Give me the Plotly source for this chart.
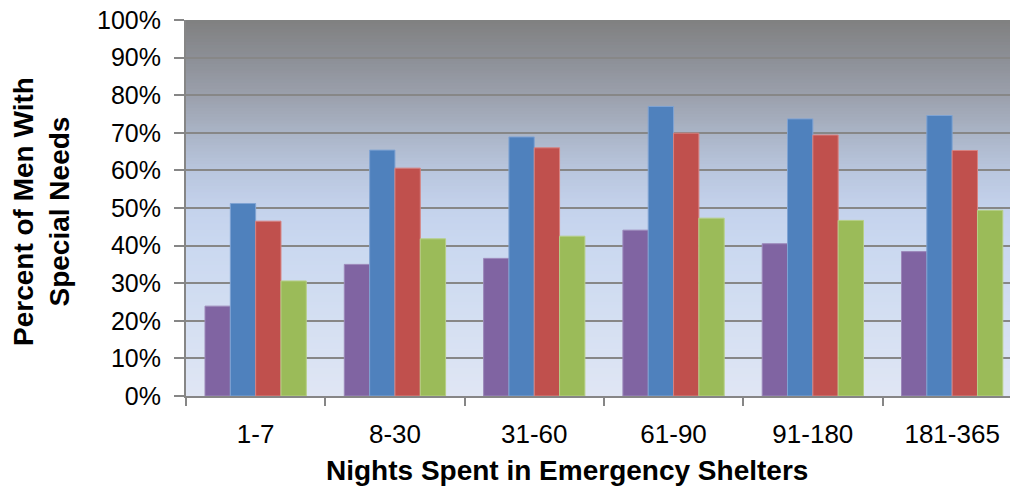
import plotly.graph_objects as go

categories = ["1-7", "8-30", "31-60", "61-90", "91-180", "181-365"]
series_purple = [23.9, 35.0, 36.6, 44.1, 40.5, 38.4]
series_blue = [51.2, 65.4, 68.9, 77.0, 73.7, 74.6]
series_red = [46.5, 60.6, 66.0, 69.9, 69.4, 65.3]
series_green = [30.6, 41.8, 42.5, 47.3, 46.7, 49.4]
y_ticks = [0, 10, 20, 30, 40, 50, 60, 70, 80, 90, 100]
y_tick_labels = ["0%", "10%", "20%", "30%", "40%", "50%", "60%", "70%", "80%", "90%", "100%"]

# the page body has an 8px margin, so the figure is sized/offset to compensate
OFF = 8
W, H = 1018 - OFF, 489 - OFF
L, R, T, B = 186 - OFF, 0, 20 - OFF, 489 - 396
PW = W - L - R
PH = H - T - B

fig = go.Figure()
colors = [("#8064A2", "#9C88BA"), ("#4F81BD", "#7FA3D3"), ("#C0504D", "#D88280"), ("#9BBB59", "#B6CF86")]
for vals, (c, lc) in zip([series_purple, series_blue, series_red, series_green], colors):
    fig.add_trace(go.Bar(x=categories, y=vals, marker=dict(color=c, line=dict(color=lc, width=1)),
                         showlegend=False, hoverinfo="skip"))

# gradient background via thin stacked rectangles
stops = [(0.0, (224, 230, 244)), (0.2, (212, 223, 242)), (0.4, (202, 216, 240)), (0.5, (196, 210, 236)),
         (0.6, (185, 198, 222)), (0.7, (170, 180, 198)), (0.8, (155, 160, 172)), (0.9, (140, 143, 150)),
         (1.0, (128, 128, 128))]

def col_at(f):
    for (f0, c0), (f1, c1) in zip(stops[:-1], stops[1:]):
        if f0 <= f <= f1:
            t = (f - f0) / (f1 - f0) if f1 > f0 else 0
            return "rgb(%d,%d,%d)" % tuple(round(a + (b - a) * t) for a, b in zip(c0, c1))
    return "rgb(128,128,128)"

N = 120
shapes = []
for i in range(N):
    y0 = i / N
    y1 = (i + 1) / N + 0.002
    shapes.append(dict(type="rect", xref="paper", yref="paper", x0=0, x1=1, y0=y0, y1=min(y1, 1),
                       fillcolor=col_at((i + 0.5) / N), line=dict(width=0), layer="below"))

cat_w = 139.3
x_hi = 5.5 - ((186 + 6 * cat_w) - 1018) / cat_w

def px_x(page_x):
    return (page_x - OFF - L) / PW

def px_y(page_y):
    return (H - B - (page_y - OFF)) / PH

fig.update_layout(
    width=W, height=H,
    margin=dict(l=L, r=R, t=T, b=B, autoexpand=False),
    paper_bgcolor="white", plot_bgcolor="rgba(0,0,0,0)",
    barmode="group", bargap=0.273, bargroupgap=0,
    shapes=shapes,
    font=dict(family="Liberation Sans, Arial, sans-serif", color="black"),
    xaxis=dict(range=[-0.5, x_hi], showgrid=False, showline=True, linecolor="#868686", linewidth=2,
               ticks="outside", tickson="boundaries", ticklen=8, tickcolor="#868686", tickwidth=2,
               tickfont=dict(size=26), automargin=False, ticklabeloverflow="allow",
               ticklabelstandoff=14),
    yaxis=dict(range=[0, 100], tickmode="array", tickvals=y_ticks, ticktext=y_tick_labels,
               showgrid=True, gridcolor="#878787",
               gridwidth=2, showline=True, linecolor="#868686", linewidth=2, ticks="outside",
               ticklen=10, tickcolor="#868686", tickwidth=2, tickfont=dict(size=25), zeroline=False,
               automargin=False, ticklabeloverflow="allow", ticklabelstandoff=8),
    annotations=[
        dict(text="<b>Percent of Men With<br>Special Needs</b>", xref="paper", yref="paper",
             x=px_x(41), y=px_y(212), xanchor="center", yanchor="middle",
             textangle=-90, showarrow=False, font=dict(size=28)),
        dict(text="<b>Nights Spent in Emergency Shelters</b>", xref="paper", yref="paper",
             x=px_x(567), y=px_y(470), xanchor="center", yanchor="middle",
             showarrow=False, font=dict(size=28)),
    ],
)

fig.write_html("out.html")
